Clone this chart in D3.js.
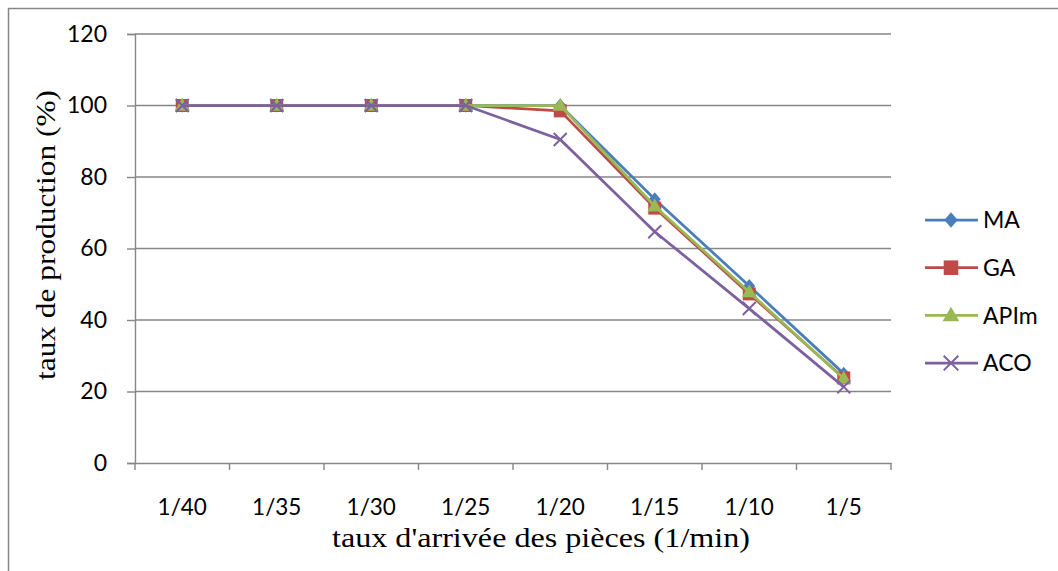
<!DOCTYPE html>
<html><head><meta charset="utf-8">
<script src="https://cdn.jsdelivr.net/npm/d3@7"></script>
<style>body{margin:0;background:#fff}svg{display:block}</style>
</head><body>
<svg id="c" width="1058" height="571"></svg>
<script>
const categories = ["1/40","1/35","1/30","1/25","1/20","1/15","1/10","1/5"];
const seriesNames = ["MA","GA","APIm","ACO"];
const MA   = [100,100,100,100,100,73.8,49.5,25];
const GA   = [100,100,100,100,98.5,71.3,47.3,23.8];
const APIm = [100,100,100,100,100,71.8,47.8,23.6];
const ACO  = [100,100,100,100,90.5,64.7,43.2,21.3];
const yTicks = [0,20,40,60,80,100,120];
const colors = {MA:"#4A7EBB",GA:"#BE4B48",APIm:"#98B954",ACO:"#7D60A0"};
const seriesData = {MA,GA,APIm,ACO};

const svg = d3.select("#c");
const L=135,R=891,T=34,B=463;
const sans = "Lato, 'Open Sans', sans-serif";
const serif = "'Liberation Serif', 'Times New Roman', serif";
svg.append("rect").attr("x",8.5).attr("y",8.5).attr("width",1200).attr("height",800)
  .attr("fill","none").attr("stroke","#868686").attr("stroke-width",1.5);

const x = d3.scaleBand().domain(categories).range([L,R]).padding(0);
const y = d3.scaleLinear().domain([0,120]).range([B,T]);
const grid="#868686";

svg.append("g").selectAll("line").data(yTicks.filter(d=>d>0)).join("line")
  .attr("x1",L).attr("x2",R).attr("y1",d=>y(d)).attr("y2",d=>y(d))
  .attr("stroke",grid).attr("stroke-width",1.4);

const ya = svg.append("g").attr("transform",`translate(${L},0)`)
  .call(d3.axisLeft(y).tickValues(yTicks).tickSize(8).tickPadding(20));
ya.select(".domain").attr("stroke",grid).attr("stroke-width",1.4);
ya.selectAll(".tick line").attr("stroke",grid).attr("stroke-width",1.4);
ya.selectAll("text").attr("font-family",sans).attr("font-size",23).attr("fill","#000");

const xa = svg.append("g").attr("transform",`translate(0,${B})`)
  .call(d3.axisBottom(x).tickSize(0).tickPadding(36));
xa.select(".domain").attr("stroke",grid).attr("stroke-width",1.4);
xa.selectAll("text").attr("font-family",sans).attr("font-size",22.5).attr("fill","#000");
const bounds = categories.map(c=>x(c)).concat([R]);
svg.append("g").selectAll("line").data(bounds).join("line")
  .attr("x1",d=>d).attr("x2",d=>d).attr("y1",B).attr("y2",B+7)
  .attr("stroke",grid).attr("stroke-width",1.4);

svg.append("text").attr("x",541).attr("y",547).attr("text-anchor","middle")
  .attr("font-family",serif).attr("font-size",27.5)
  .attr("textLength",418).attr("lengthAdjust","spacingAndGlyphs")
  .text("taux d'arrivée des pièces (1/min)");
svg.append("text").attr("transform","translate(55,235) rotate(-90)").attr("text-anchor","middle")
  .attr("font-family",serif).attr("font-size",28)
  .attr("textLength",290).attr("lengthAdjust","spacingAndGlyphs")
  .text("taux de production (%)");

function marker(g,name,cx,cy,big){
  const c=colors[name];
  const k = big?1.12:1;
  if(name==="MA"){
    const w=6*k,h=7*k;
    g.append("path").attr("d",`M${cx},${cy-h}L${cx+w},${cy}L${cx},${cy+h}L${cx-w},${cy}Z`).attr("fill",c);
  } else if(name==="GA"){
    const s=6.5*k;
    g.append("rect").attr("x",cx-s).attr("y",cy-s).attr("width",2*s).attr("height",2*s).attr("fill",c);
  } else if(name==="APIm"){
    const w=7.5*k,h=13*k;
    g.append("path").attr("d",`M${cx},${cy-h*0.6}L${cx+w},${cy+h*0.4}L${cx-w},${cy+h*0.4}Z`).attr("fill",c);
  } else {
    const s=6.5*k;
    g.append("path").attr("d",`M${cx-s},${cy-s}L${cx+s},${cy+s}M${cx-s},${cy+s}L${cx+s},${cy-s}`)
      .attr("stroke",c).attr("stroke-width",2).attr("fill","none");
  }
}

const line = d3.line().x((d,i)=>x(categories[i])+x.bandwidth()/2).y(d=>y(d));
seriesNames.forEach(name=>{
  const g=svg.append("g");
  g.append("path").datum(seriesData[name]).attr("d",line).attr("fill","none")
    .attr("stroke",colors[name]).attr("stroke-width",2.75).attr("stroke-linejoin","round");
  seriesData[name].forEach((v,i)=>marker(g,name,x(categories[i])+x.bandwidth()/2,y(v),false));
});

seriesNames.forEach((name,i)=>{
  const cy=220+i*47.7;
  const g=svg.append("g");
  g.append("line").attr("x1",925).attr("x2",978).attr("y1",cy).attr("y2",cy).attr("stroke",colors[name]).attr("stroke-width",2.75);
  marker(g,name,951,cy,true);
  g.append("text").attr("x",983).attr("y",cy).attr("dy","0.36em").attr("font-family",sans)
    .attr("font-size",23).text(name);
});
</script>
</body></html>
